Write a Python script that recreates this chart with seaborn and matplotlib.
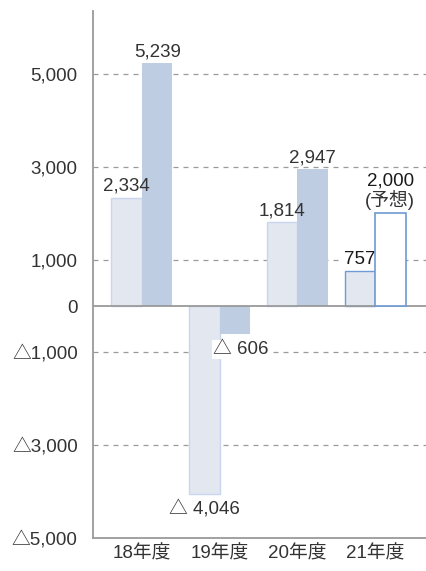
import seaborn as sns
import matplotlib.pyplot as plt
import pandas as pd

# values
years = ["18年度", "19年度", "20年度", "21年度"]
series_a = [2334, -4046, 1814, 757]
series_b = [5239, -606, 2947, 2000]
label_a = ["2,334", "△ 4,046", "1,814", "757"]
label_b = ["5,239", "△ 606", "2,947", "2,000"]
forecast_note = "(予想)"
yticks = [5000, 3000, 1000, 0, -1000, -3000, -5000]
ytick_labels = ["5,000", "3,000", "1,000", "0", "△1,000", "△3,000", "△5,000"]

light = "#dfe6f3"
light_edge = "#c9d6ee"
dark = "#b9cbe9"
blue_edge = "#6e9bd4"
grid_c = "#9a9a9a"
txt = "#333333"
fs = 13.5

sns.set_theme(style="white")
plt.rcParams['font.family'] = ['Liberation Sans', 'Noto Sans CJK JP', 'DejaVu Sans']

df = pd.DataFrame({
    "year": years * 2,
    "value": series_a + series_b,
    "series": ["a"] * 4 + ["b"] * 4,
})

fig = plt.figure(figsize=(4.26, 5.71), dpi=100)
ax = fig.add_axes([93 / 426, 33 / 571, 1 - 93 / 426, (538 - 11) / 571])

sns.barplot(data=df, x="year", y="value", hue="series", order=years,
            palette=[light, dark], width=0.785, legend=False, ax=ax,
            linewidth=0, zorder=2)

bars_a, bars_b = ax.containers[0], ax.containers[1]
for i, p in enumerate(bars_a):
    p.set_edgecolor(blue_edge if i == 3 else light_edge)
    p.set_linewidth(1.0)
for i, p in enumerate(bars_b):
    if i == 3:
        p.set_facecolor("white")
        p.set_edgecolor(blue_edge)
        p.set_linewidth(1.2)
        p.set_zorder(6)

# dashed grid lines behind bars
for v in [5000, 3000, 1000, -1000, -3000]:
    ax.axhline(v, color=grid_c, lw=0.9, ls=(0, (4, 4)), zorder=1)
ax.axhline(0, color=grid_c, lw=1.3, zorder=3)

ax.set_ylim(-5000, 6360)
ax.set_xlim(-0.63, 3.655)
ax.set_yticks(yticks)
ax.set_yticklabels(ytick_labels)
ax.set_xlabel("")
ax.set_ylabel("")
ax.tick_params(axis="both", length=0, labelsize=fs, colors=txt)
ax.tick_params(axis="y", pad=11)
ax.tick_params(axis="x", pad=5)

for s in ["top", "right"]:
    ax.spines[s].set_visible(False)
for s in ["left", "bottom"]:
    ax.spines[s].set_color(grid_c)
    ax.spines[s].set_linewidth(1.3)

white_box = dict(boxstyle="square,pad=0.05", fc="white", ec="none")

def put_label(p, text, val, color=txt, dx=0, dy=0, **kw):
    cx = p.get_x() + p.get_width() / 2
    if val >= 0:
        ax.annotate(text, (cx, val), xytext=(dx, 2 + dy), textcoords="offset points",
                    ha="center", va="bottom", fontsize=fs, color=color,
                    zorder=5, **kw)
    else:
        ax.annotate(text, (cx, val), xytext=(dx, -5 + dy), textcoords="offset points",
                    ha="center", va="top", fontsize=fs, color=color,
                    zorder=5, **kw)

for i, p in enumerate(bars_a):
    if i == 3:
        put_label(p, label_a[i], series_a[i], color="#1a1a1a", bbox=white_box)
    else:
        put_label(p, label_a[i], series_a[i])
for i, p in enumerate(bars_b):
    if i == 1:
        put_label(p, label_b[i], series_b[i], dx=4, bbox=white_box)
    elif i == 3:
        put_label(p, forecast_note, series_b[i], color="#333333")
        put_label(p, label_b[i], series_b[i], color="#1a1a1a", dy=15)
    else:
        put_label(p, label_b[i], series_b[i])

fig.savefig("out.png", dpi=100)
